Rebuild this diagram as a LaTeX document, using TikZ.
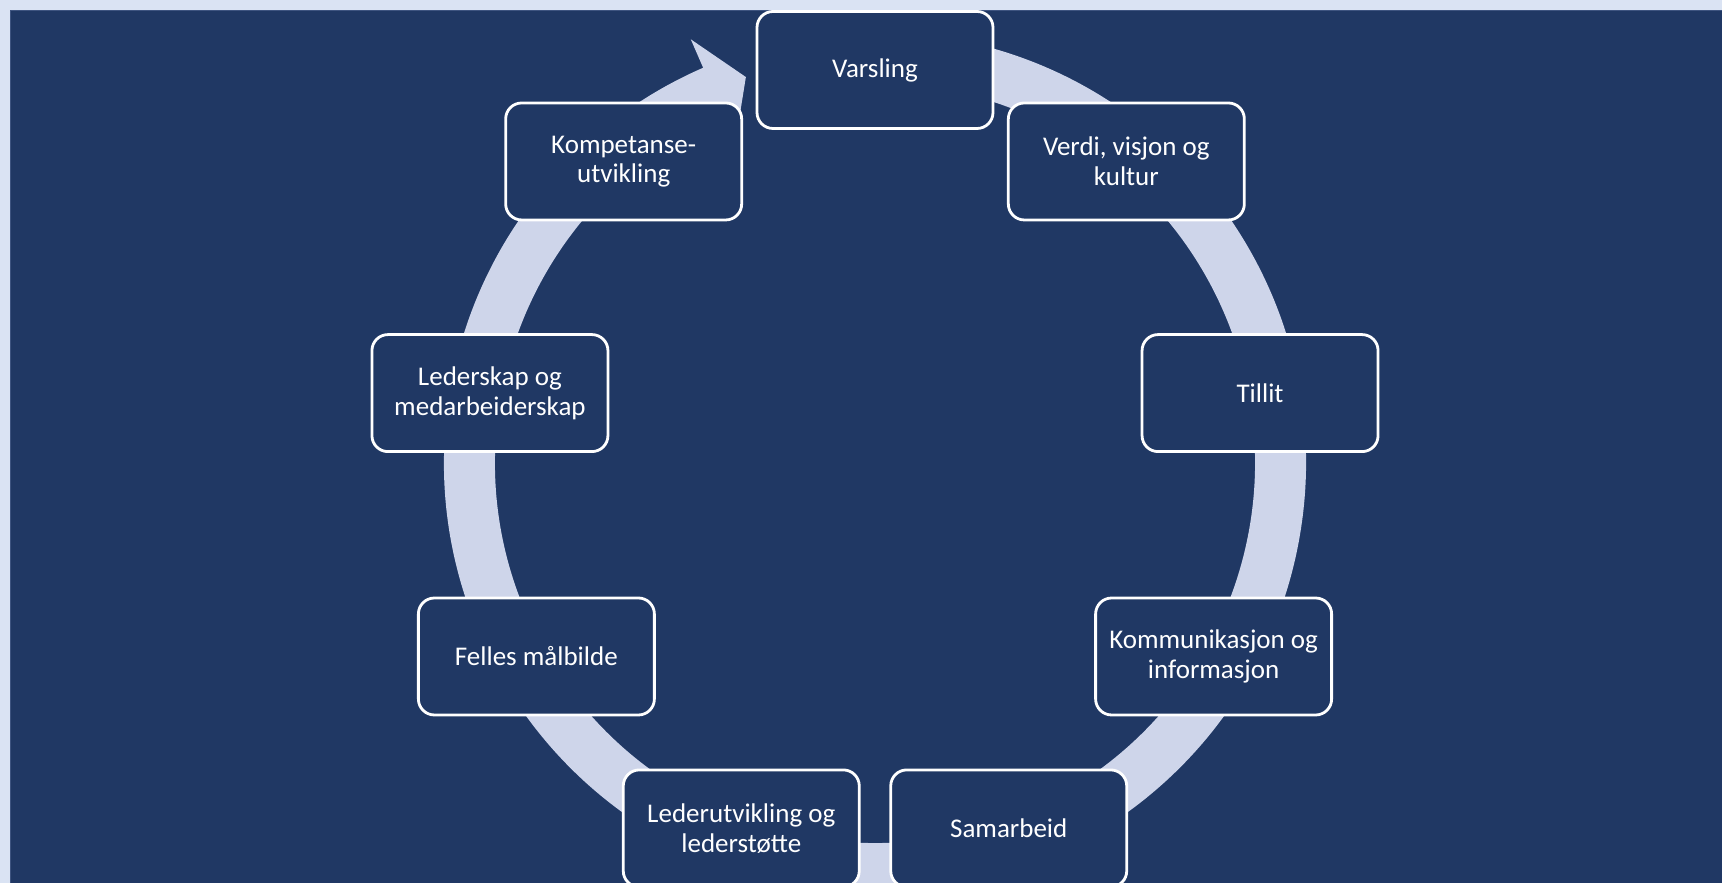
\documentclass[tikz,border=0pt]{standalone}
\usepackage{fontspec}
\setmainfont{Carlito}
\usepackage{tikz}
\usetikzlibrary{positioning}
\definecolor{pagebg}{HTML}{DAE3F3}
\definecolor{navy}{HTML}{203864}
\definecolor{navyedge}{HTML}{3E5480}
\definecolor{ringfill}{HTML}{CED5EA}
\tikzset{
    cyclebox/.style={
        draw=white, fill=navy, line width=2.8pt, rounded corners=16pt,
        minimum width=236pt, minimum height=117pt, inner sep=4pt,
        text=white, font=\fontsize{27}{29.5}\selectfont, align=center
    },
    ringband/.style={fill=ringfill, draw=none},
}
\begin{document}
\begin{tikzpicture}[x=1pt, y=1pt]
    \clip (0,0) rectangle (1722,883);
    \fill[pagebg] (0,0) rectangle (1722,883);
    \filldraw[fill=navy, draw=navyedge, line width=1pt] (10.5,-5) rectangle (1730,872.5);
    \begin{scope}[shift={(875,420)}]
        % ring with arrow head at the top
        \fill[ringband] (80:431) arc[start angle=80, end angle=-246.5, radius=431]
            -- (113.5:462) -- (108.5:407) -- (113.5:350) -- (113.5:380)
            arc[start angle=-246.5, end angle=80, radius=380] -- cycle;
    \end{scope}
    \begin{scope}[shift={(875,422)}]
        \node[cyclebox] (varsling) at (90:391) {Varsling};
        \node[cyclebox] (verdi) at (50:391) {Verdi, visjon og\\kultur};
        \node[cyclebox] (tillit) at (10:391) {Tillit};
        \node[cyclebox] (kommunikasjon) at (-30:391) {Kommunikasjon og\\informasjon};
        \node[cyclebox] (samarbeid) at (-70:391) {Samarbeid};
        \node[cyclebox] (lederutvikling) at (-110:391) {Lederutvikling og\\lederstøtte};
        \node[cyclebox] (malbilde) at (-150:391) {Felles målbilde};
        \node[cyclebox] (lederskap) at (170:391) {Lederskap og\\medarbeiderskap};
        \node[cyclebox] (kompetanse) at (130:391) {Kompetanse-\\utvikling};
    \end{scope}
\end{tikzpicture}
\end{document}
